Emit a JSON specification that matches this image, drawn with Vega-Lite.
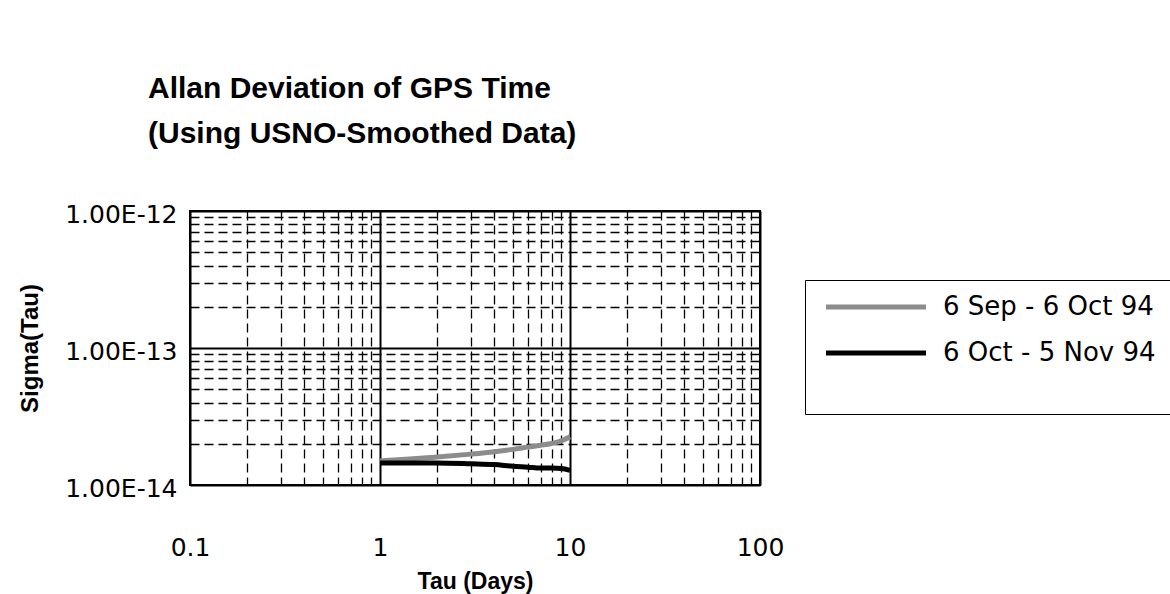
{
  "$schema": "https://vega.github.io/schema/vega-lite/v6.json",
  "width": 570,
  "height": 274,
  "autosize": {"type": "none"},
  "padding": {"left": 190, "top": 211, "right": 410, "bottom": 109},
  "background": "white",
  "title": {
    "text": ["Allan Deviation of GPS Time", "(Using USNO-Smoothed Data)"],
    "anchor": "start",
    "frame": "group",
    "dx": -42,
    "offset": 53,
    "font": "Liberation Sans",
    "fontSize": 30,
    "fontWeight": "bold",
    "lineHeight": 45,
    "color": "black"
  },
  "data": {
    "values": [
      {"tau": 1, "sigma": 1.50e-14, "series": "6 Sep - 6 Oct 94"},
      {"tau": 2, "sigma": 1.60e-14, "series": "6 Sep - 6 Oct 94"},
      {"tau": 3, "sigma": 1.68e-14, "series": "6 Sep - 6 Oct 94"},
      {"tau": 4, "sigma": 1.75e-14, "series": "6 Sep - 6 Oct 94"},
      {"tau": 5, "sigma": 1.82e-14, "series": "6 Sep - 6 Oct 94"},
      {"tau": 6, "sigma": 1.89e-14, "series": "6 Sep - 6 Oct 94"},
      {"tau": 7, "sigma": 1.95e-14, "series": "6 Sep - 6 Oct 94"},
      {"tau": 8, "sigma": 2.01e-14, "series": "6 Sep - 6 Oct 94"},
      {"tau": 9, "sigma": 2.10e-14, "series": "6 Sep - 6 Oct 94"},
      {"tau": 10, "sigma": 2.25e-14, "series": "6 Sep - 6 Oct 94"},
      {"tau": 1, "sigma": 1.45e-14, "series": "6 Oct - 5 Nov 94"},
      {"tau": 2, "sigma": 1.45e-14, "series": "6 Oct - 5 Nov 94"},
      {"tau": 3, "sigma": 1.43e-14, "series": "6 Oct - 5 Nov 94"},
      {"tau": 4, "sigma": 1.41e-14, "series": "6 Oct - 5 Nov 94"},
      {"tau": 5, "sigma": 1.37e-14, "series": "6 Oct - 5 Nov 94"},
      {"tau": 6, "sigma": 1.35e-14, "series": "6 Oct - 5 Nov 94"},
      {"tau": 7, "sigma": 1.33e-14, "series": "6 Oct - 5 Nov 94"},
      {"tau": 8, "sigma": 1.33e-14, "series": "6 Oct - 5 Nov 94"},
      {"tau": 9, "sigma": 1.32e-14, "series": "6 Oct - 5 Nov 94"},
      {"tau": 10, "sigma": 1.28e-14, "series": "6 Oct - 5 Nov 94"}
    ]
  },
  "mark": {"type": "line", "strokeWidth": 5, "interpolate": "monotone"},
  "encoding": {
    "x": {
      "field": "tau",
      "type": "quantitative",
      "scale": {"type": "log", "domain": [0.1, 100], "nice": false},
      "axis": {
        "title": "Tau (Days)",
        "values": [0.1, 0.2, 0.3, 0.4, 0.5, 0.6, 0.7, 0.8, 0.9, 1, 2, 3, 4, 5, 6, 7, 8, 9, 10, 20, 30, 40, 50, 60, 70, 80, 90, 100],
        "labelExpr": "abs(log(datum.value)/LN10 - round(log(datum.value)/LN10)) < 0.001 ? datum.value >= 1 ? format(datum.value, 'd') : '0.1' : ''",
        "labelFont": "DejaVu Sans",
        "labelFontSize": 25,
        "labelColor": "black",
        "labelPadding": 50,
        "labelFlush": false,
        "labelOverlap": false,
        "ticks": false,
        "domain": false,
        "grid": true,
        "gridColor": "black",
        "gridOpacity": 1,
        "gridWidth": {"condition": {"test": "abs(log(datum.value)/LN10 - round(log(datum.value)/LN10)) < 0.001", "value": 2}, "value": 1.3},
        "gridDash": {"condition": {"test": "abs(log(datum.value)/LN10 - round(log(datum.value)/LN10)) < 0.001", "value": []}, "value": [9, 5]},
        "titleFont": "Liberation Sans",
        "titleFontSize": 23,
        "titleFontWeight": "bold",
        "titleColor": "black",
        "titlePadding": 10
      }
    },
    "y": {
      "field": "sigma",
      "type": "quantitative",
      "scale": {"type": "log", "domain": [1e-14, 1e-12], "nice": false},
      "axis": {
        "title": "Sigma(Tau)",
        "values": [1e-14, 2e-14, 3e-14, 4e-14, 5e-14, 6e-14, 7e-14, 8e-14, 9e-14, 1e-13, 2e-13, 3e-13, 4e-13, 5e-13, 6e-13, 7e-13, 8e-13, 9e-13, 1e-12],
        "labelExpr": "abs(log(datum.value)/LN10 - round(log(datum.value)/LN10)) < 0.001 ? '1.00E' + round(log(datum.value)/LN10) : ''",
        "labelFont": "DejaVu Sans",
        "labelFontSize": 25,
        "labelColor": "black",
        "labelPadding": 13,
        "labelOffset": 3,
        "labelFlush": false,
        "labelOverlap": false,
        "ticks": false,
        "domain": false,
        "grid": true,
        "gridColor": "black",
        "gridOpacity": 1,
        "gridWidth": {"condition": {"test": "abs(log(datum.value)/LN10 - round(log(datum.value)/LN10)) < 0.001", "value": 2}, "value": 1.3},
        "gridDash": {"condition": {"test": "abs(log(datum.value)/LN10 - round(log(datum.value)/LN10)) < 0.001", "value": []}, "value": [9, 5]},
        "titleFont": "Liberation Sans",
        "titleFontSize": 24,
        "titleFontWeight": "bold",
        "titleColor": "black",
        "titlePadding": 22
      }
    },
    "color": {
      "field": "series",
      "type": "nominal",
      "scale": {"domain": ["6 Sep - 6 Oct 94", "6 Oct - 5 Nov 94"], "range": ["#8c8c8c", "#000000"]},
      "legend": {
        "title": "                                                            ",
        "titleOrient": "bottom",
        "titleFontSize": 20,
        "titlePadding": 14,
        "titleLimit": 1000,
        "orient": "none",
        "legendX": 615,
        "legendY": 69,
        "strokeColor": "black",
        "fillColor": "white",
        "padding": 14,
        "symbolType": "M-5,0H5",
        "symbolSize": 400,
        "symbolStrokeWidth": 5,
        "symbolOffset": 44,
        "labelOffset": 54,
        "labelFont": "DejaVu Sans",
        "labelFontSize": 26,
        "labelColor": "black",
        "labelLimit": 400,
        "rowPadding": 20
      }
    }
  },
  "config": {
    "view": {"stroke": "black", "strokeWidth": 2}
  }
}
